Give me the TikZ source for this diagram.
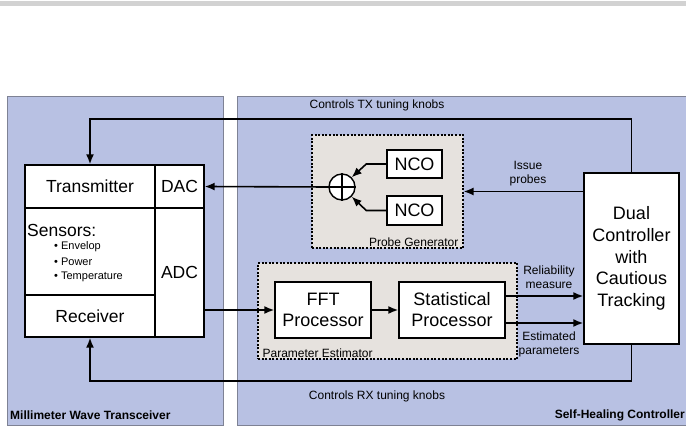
\documentclass[tikz,border=0pt]{standalone}
\usepackage{fontspec}
\setmainfont{Liberation Sans}
\usetikzlibrary{arrows.meta,positioning}
\definecolor{panelblue}{HTML}{B8C1E3}
\definecolor{paneledge}{HTML}{7E8294}
\definecolor{groupfill}{HTML}{E6E2DE}
\newcommand{\fs}[2]{\fontsize{#1}{#2}\selectfont}

\begin{document}
\begin{tikzpicture}[
    x=1pt, y=-1pt,
    panel/.style={draw=paneledge, fill=panelblue, line width=1pt},
    cell/.style={draw, fill=white, line width=1.4pt, inner sep=0pt, font=\fs{17.5}{21}},
    groupbox/.style={draw, fill=groupfill, line width=1.2pt, dash pattern=on 2pt off 1.6pt, inner sep=0pt},
    arr/.style={line width=1.6pt, -{Latex[length=10pt,width=8pt]}},
    smalllabel/.style={font=\fs{12}{14}, align=center, inner sep=0pt},
    bulletitem/.style={anchor=west, inner sep=0pt, font=\fs{11}{13}},
    paneltitle/.style={font=\bfseries\fs{12}{14}, inner sep=0pt}
]
    \useasboundingbox (0,0) rectangle (686,428);
    \fill[gray!35] (0,1) rectangle (686,6);

    % Panels
    \draw[panel] (7,97) rectangle (223,425);
    \draw[panel] (237,97) rectangle (700,425);
    \node[paneltitle, anchor=west] (mmw) at (10,415) {Millimeter Wave Transceiver};
    \node[paneltitle, anchor=east] (shc) at (685,415) {Self-Healing Controller};

    % Transceiver
    \node[cell, minimum width=130pt, minimum height=43pt] (tx) at (90,186.5) {Transmitter};
    \node[cell, minimum width=49pt, minimum height=43pt] (dac) at (179.5,186.5) {DAC};
    \node[cell, minimum width=130pt, minimum height=87pt] (sens) at (90,251.5) {};
    \node[cell, minimum width=130pt, minimum height=42pt] (rx) at (90,316) {Receiver};
    \node[cell, minimum width=49pt, minimum height=129pt] (adc) at (179.5,272.5) {ADC};
    \node[anchor=west, inner sep=0pt, font=\fs{17.5}{21}] (senslbl) at (27,230) {Sensors:};
    \node[bulletitem] (env) at (54,247) {\textbullet\ Envelop};
    \node[bulletitem] (pow) at (54,262) {\textbullet\ Power};
    \node[bulletitem] (temp) at (54,277) {\textbullet\ Temperature};

    % Probe generator
    \node[groupbox, minimum width=151pt, minimum height=113pt] (pg) at (387.5,191.5) {};
    \node[smalllabel, anchor=south east] at ([xshift=-5pt,yshift=2pt]pg.south east) {Probe Generator};
    \node[cell, font=\fs{18}{21}, minimum width=55pt, minimum height=28pt] (nco1) at (414.5,164) {NCO};
    \node[cell, font=\fs{18}{21}, minimum width=55pt, minimum height=29pt] (nco2) at (414.5,210.5) {NCO};
    \node[draw, fill=white, circle, line width=1.4pt, minimum size=26pt, inner sep=0pt] (sum) at (342,187) {};
    \draw[line width=1.4pt] (sum.north) -- (sum.south) (sum.west) -- (sum.east);

    % Parameter estimator
    \node[groupbox, minimum width=259pt, minimum height=96pt] (pe) at (387.5,311) {};
    \node[smalllabel, anchor=south west] at ([xshift=5pt,yshift=2pt]pe.south west) {Parameter Estimator};
    \node[cell, font=\fs{18}{21}, align=center, minimum width=96pt, minimum height=56pt] (fft) at (323,310) {FFT\\Processor};
    \node[cell, font=\fs{18}{21}, align=center, minimum width=106pt, minimum height=56pt] (stat) at (452,310) {Statistical\\Processor};

    % Controller
    \node[cell, font=\fs{18}{21.7}, align=center, minimum width=95pt, minimum height=171pt] (dual) at (631.5,258.5) {Dual\\Controller\\with\\Cautious\\Tracking};

    % Connections
    \coordinate (txbus) at (0,119);
    \coordinate (rxbus) at (0,381);
    \draw[arr] (dual.north) |- (txbus -| tx.north) -- (tx.north);
    \draw[arr] (dual.south) |- (rxbus -| rx.south) -- (rx.south);
    \node[smalllabel] at (377,105) {Controls TX tuning knobs};
    \node[smalllabel] at (377,396) {Controls RX tuning knobs};

    \draw[arr] (nco1.west) -- ++(-20,0) -- (sum.north east);
    \draw[arr] (nco2.west) -- ++(-20,0) -- (sum.south east);
    \draw[arr] (sum.west) -- (dac.east);
    \draw[arr] (dual.west |- pg.east) -- (pg.east);
    \node[smalllabel] at (528,174) {Issue\\probes};

    \draw[arr] (adc.east |- fft.west) -- (fft.west);
    \draw[arr] (fft) -- (stat);
    \draw[arr] ([yshift=14pt]stat.east) coordinate (rel) -- (rel -| dual.west);
    \draw[arr] ([yshift=-13pt]stat.east) coordinate (est) -- (est -| dual.west);
    \node[smalllabel] at (549,277) {Reliability\\measure};
    \node[smalllabel] at (549,344) {Estimated\\parameters};
\end{tikzpicture}
\end{document}
